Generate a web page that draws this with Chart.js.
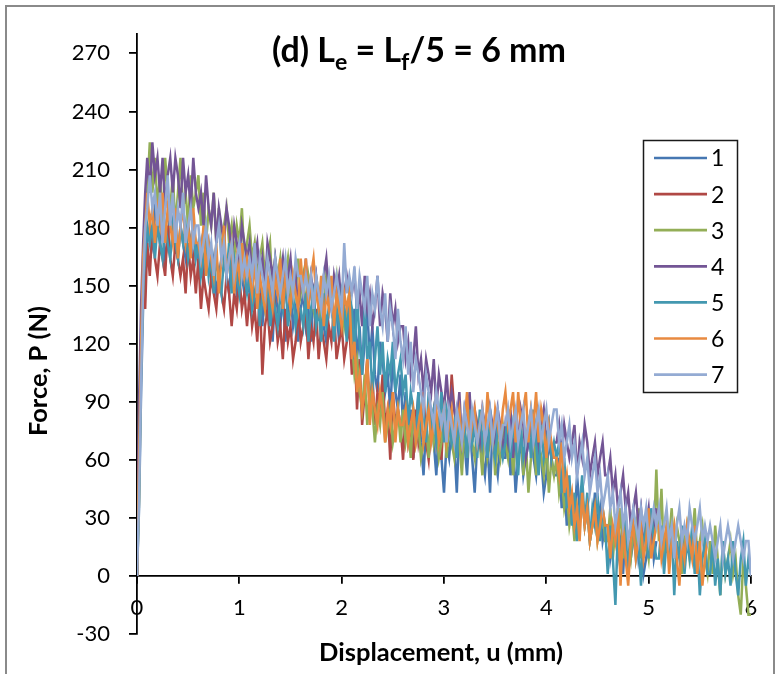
<!DOCTYPE html>
<html><head><meta charset="utf-8">
<script src="https://cdn.jsdelivr.net/npm/chart.js@4.4.1/dist/chart.umd.min.js"></script>
<style>
html,body{margin:0;padding:0;background:#fff;}
#wrap{position:relative;width:775px;height:674px;overflow:hidden;background:#fff;}
#frame{position:absolute;left:5px;top:5px;width:770px;height:720px;border:2px solid #8a8a8a;box-sizing:border-box;}
canvas{position:absolute;left:0;top:0;}
</style></head>
<body><div id="wrap"><div id="frame"></div><canvas id="c" width="775" height="674"></canvas></div>
<script>
// Displacement u (mm) sample positions
const displacement = [
  0, 0.02, 0.04, 0.06, 0.08,
  0.100, 0.125, 0.150, 0.175, 0.200, 0.225, 0.250, 0.275, 0.300, 0.325, 0.350, 0.375, 0.400, 0.425, 0.450, 0.475, 0.500, 0.525, 0.550, 0.575,
  0.600, 0.625, 0.650, 0.675, 0.700, 0.725, 0.750, 0.775, 0.800, 0.825, 0.850, 0.875, 0.900, 0.925, 0.950, 0.975, 1.000, 1.025, 1.050, 1.075,
  1.100, 1.125, 1.150, 1.175, 1.200, 1.225, 1.250, 1.275, 1.300, 1.325, 1.350, 1.375, 1.400, 1.425, 1.450, 1.475, 1.500, 1.525, 1.550, 1.575,
  1.600, 1.625, 1.650, 1.675, 1.700, 1.725, 1.750, 1.775, 1.800, 1.825, 1.850, 1.875, 1.900, 1.925, 1.950, 1.975, 2.000, 2.025, 2.050, 2.075,
  2.100, 2.125, 2.150, 2.175, 2.200, 2.225, 2.250, 2.275, 2.300, 2.325, 2.350, 2.375, 2.400, 2.425, 2.450, 2.475, 2.500, 2.525, 2.550, 2.575,
  2.600, 2.625, 2.650, 2.675, 2.700, 2.725, 2.750, 2.775, 2.800, 2.825, 2.850, 2.875, 2.900, 2.925, 2.950, 2.975, 3.000, 3.025, 3.050, 3.075,
  3.100, 3.125, 3.150, 3.175, 3.200, 3.225, 3.250, 3.275, 3.300, 3.325, 3.350, 3.375, 3.400, 3.425, 3.450, 3.475, 3.500, 3.525, 3.550, 3.575,
  3.600, 3.625, 3.650, 3.675, 3.700, 3.725, 3.750, 3.775, 3.800, 3.825, 3.850, 3.875, 3.900, 3.925, 3.950, 3.975, 4.000, 4.025, 4.050, 4.075,
  4.100, 4.125, 4.150, 4.175, 4.200, 4.225, 4.250, 4.275, 4.300, 4.325, 4.350, 4.375, 4.400, 4.425, 4.450, 4.475, 4.500, 4.525, 4.550, 4.575,
  4.600, 4.625, 4.650, 4.675, 4.700, 4.725, 4.750, 4.775, 4.800, 4.825, 4.850, 4.875, 4.900, 4.925, 4.950, 4.975, 5.000, 5.025, 5.050, 5.075,
  5.100, 5.125, 5.150, 5.175, 5.200, 5.225, 5.250, 5.275, 5.300, 5.325, 5.350, 5.375, 5.400, 5.425, 5.450, 5.475, 5.500, 5.525, 5.550, 5.575,
  5.600, 5.625, 5.650, 5.675, 5.700, 5.725, 5.750, 5.775, 5.800, 5.825, 5.850, 5.875, 5.900, 5.925, 5.950, 5.975, 6.000
];

// Force P (N) for each specimen
const force1 = [
  0, 35, 95, 140, 160,
  172,181,172,190,181,172,181,164,172,190, 181,172,164,181,172,164,181,172,164,172,
  164,172,155,164,172,155,164,146,155,164, 172,155,146,164,155,146,164,155,146,155,
  146,155,138,146,155,129,146,138,155,121, 146,138,129,146,121,138,146,129,138,121,
  138,146,129,138,121,146,129,138,146,129, 121,138,146,129,138,121,146,138,129,138,
  121,138,112,129,104,121,138,112,129,104, 95,121,112,95,104,86,112,95,86,104,
  78,95,69,86,61,78,95,69,52,78, 61,86,69,52,78,61,43,69,61,78,
  69,43,78,61,69,52,78,61,43,69, 78,61,52,69,43,78,61,52,69,61,
  61,78,52,69,43,61,69,52,61,69, 78,61,52,69,61,43,52,69,61,52,
  52,61,35,52,26,43,35,26,52,35, 43,26,35,18,26,43,26,35,18,26,
  26,9,18,26,9,18,1,26,18,9, 18,26,9,18,1,9,18,26,9,18
];
const force2 = [
  0, 69, 120, 155, 138,
  172,155,181,164,155,172,164,155,181,164, 155,172,164,155,164,146,172,155,164,146,
  164,138,155,146,138,155,146,138,155,146, 138,155,146,129,146,138,155,138,146,129,
  146,129,138,121,146,104,129,138,121,129, 138,121,129,112,138,121,129,112,121,138,
  121,129,138,112,129,121,138,112,129,121, 112,129,121,138,112,121,129,112,121,129,
  104,121,86,112,78,95,112,86,104,78, 95,86,104,78,86,60,95,78,86,78,
  60,86,69,78,60,86,69,78,95,69, 60,78,86,69,78,60,86,69,78,104,
  86, 78
];
const force3 = [
  0, 40, 110, 150, 175,
  198,224,198,216,190,207,181,216,198,190, 207,181,198,216,190,198,181,207,190,198,
  207,181,198,172,190,181,198,172,190,164, 181,190,172,181,164,181,172,190,164,172,
  181,164,172,155,164,172,155,164,172,146, 164,155,164,146,155,164,146,155,146,164,
  146,155,138,155,146,138,155,146,129,138, 155,146,138,146,155,138,146,129,138,146,
  121,104,112,95,86,104,78,95,86,69, 86,78,95,69,78,86,69,78,86,69,
  86,69,78,61,86,69,78,61,69,78, 61,86,69,78,61,69,86,61,78,69,
  61,78,69,52,78,61,86,69,61,78, 69,52,78,61,69,78,52,69,61,78,
  69,61,78,52,69,61,78,52,69,43, 61,78,52,69,61,52,69,43,61,52,
  61,43,52,35,43,26,35,18,35,26, 43,26,35,18,26,35,18,26,35,18,
  18,35,9,26,18,35,9,26,18,9, 26,18,35,9,26,18,9,26,18,55,
  18,45,9,26,18,35,9,26,18,1, 18,26,9,18,35,9,18,26,9,1,
  18,1,26,9,-10,18,1,9,18,1, 9,-10,-20,9,-5,-20,-20
];
const force4 = [
  0, 90, 140, 172, 198,
  216,198,224,207,216,198,216,190,207,216, 198,216,207,190,216,198,207,190,216,198,
  190,198,181,207,190,181,198,172,190,181, 172,190,181,164,181,172,164,181,172,164,
  172,155,164,172,155,164,146,172,164,155, 164,146,155,164,146,155,164,146,155,138,
  155,146,164,138,155,146,155,138,146,155, 164,146,138,155,146,155,138,146,155,146,
  146,155,138,146,129,155,138,146,129,138, 155,129,146,138,121,146,129,138,121,129,
  129,112,121,104,112,129,104,112,95,112, 104,95,112,86,104,95,86,104,86,95,
  86,78,95,69,86,78,95,69,86,78, 69,86,78,61,86,78,69,86,78,61,
  78,69,86,61,78,69,86,78,61,69, 86,69,78,61,78,86,69,78,61,69,
  69,78,61,78,69,61,69,78,52,69, 61,78,69,52,61,69,52,61,69,52,
  52,61,43,52,35,43,52,35,43,26, 35,43,26,35,18,26,35,18,26,35
];
const force5 = [
  0, 50, 110, 150, 165,
  181,172,181,164,181,172,164,181,172,164, 181,172,164,181,172,181,164,172,181,164,
  172,155,164,172,155,164,146,164,155,146, 164,155,172,146,164,155,146,164,155,146,
  155,138,146,155,129,146,138,155,129,146, 138,129,146,138,155,129,138,146,129,138,
  138,129,146,121,138,146,129,138,121,146, 129,138,146,121,138,129,146,138,121,146,
  138,112,146,121,104,138,112,121,95,112, 129,104,121,95,112,104,121,95,104,112,
  95,104,78,95,86,69,95,78,86,69, 95,78,86,69,78,95,69,86,78,69,
  78,61,86,69,78,61,86,69,78,61, 86,69,78,61,86,69,61,78,69,61,
  69,86,61,78,69,52,78,61,69,78, 61,86,69,52,78,61,69,78,61,69,
  61,69,43,61,35,52,26,43,18,35, 52,26,43,18,35,26,43,18,35,26,
  1,26,9,-15,26,9,18,35,1,18, 26,9,18,-5,18,26,9,35,18,9,
  9,26,1,18,9,26,-10,18,9,26, 1,18,9,26,1,18,-10,9,18,1,
  1,18,-5,9,-10,18,1,9,-5,18, 1,-10,9,18,-5,9,1
];
const force6 = [
  0, 60, 120, 165, 180,
  198,181,190,172,190,181,198,172,190,181, 172,190,164,181,190,172,181,164,190,172,
  172,164,181,155,172,164,155,172,146,164, 181,155,164,172,146,164,155,172,155,164,
  155,146,164,138,155,146,138,155,146,138, 155,146,164,138,155,146,138,155,146,138,
  164,146,164,138,155,164,146,138,155,129, 146,138,155,129,146,138,129,146,138,146,
  112,121,95,104,86,95,112,78,95,86, 78,95,86,69,86,78,95,69,86,78,
  78,86,69,78,86,69,78,86,69,78, 86,69,78,86,69,78,86,69,78,86,
  69,78,86,69,78,95,69,78,86,69, 78,86,69,95,78,69,86,78,69,86,
  95,78,86,95,69,95,78,86,95,69, 86,78,95,69,86,78,61,78,69,61,
  61,52,69,43,52,35,43,26,35,18, 43,26,35,18,26,35,18,26,35,26,
  26,9,26,18,35,-5,26,9,-5,18, 26,9,18,26,9,18,35,9,18,26,
  26,9,18,26,1,18,26,9,-5,18, 9,26,18,9,26,1,18,-5,9,18
];
const force7 = [
  0, 40, 100, 150, 180,
  190,207,190,198,181,198,172,190,207,181, 198,172,190,181,198,172,181,190,172,181,
  181,164,172,181,164,172,155,172,181,164, 172,155,164,172,155,164,172,155,164,155,
  164,155,172,146,164,155,146,164,155,146, 164,155,146,155,164,146,155,146,164,155,
  155,146,155,146,155,138,155,146,138,155, 146,155,138,146,155,146,138,172,146,155,
  146,160,138,155,146,138,155,129,146,138, 155,138,129,146,121,138,129,112,138,121,
  112,129,104,121,95,112,104,95,86,104, 95,86,78,95,86,78,86,69,86,78,
  69,86,78,69,86,78,69,86,78,69, 78,86,69,78,86,69,78,86,69,78,
  78,86,69,78,86,69,78,86,69,78, 86,69,78,86,69,78,86,69,78,86,
  86,69,78,61,69,78,61,69,52,61, 69,52,61,43,52,61,43,52,35,43,
  52,35,43,26,35,43,26,35,18,26, 35,26,18,35,26,35,18,26,35,26,
  35,18,26,35,18,26,9,26,35,18, 26,18,35,26,18,26,35,18,26,18,
  26,18,9,18,26,9,18,26,18,9, 18,26,18,9,18,18,0
];

const seriesNames = ['1', '2', '3', '4', '5', '6', '7'];
const seriesForces = [force1, force2, force3, force4, force5, force6, force7];
const seriesColors = ['#4677B2', '#B04845', '#93AE57', '#735595', '#4398B0', '#E88A40', '#94ABD3'];
const yTicks = [-30, 0, 30, 60, 90, 120, 150, 180, 210, 240, 270];
const xTicks = [0, 1, 2, 3, 4, 5, 6];

const FONT = 'Lato, "Liberation Sans", sans-serif';

const datasets = seriesForces.map((ys, i) => ({
  label: seriesNames[i],
  data: ys.map((y, k) => ({ x: displacement[k], y: y })),
  borderColor: seriesColors[i],
  backgroundColor: seriesColors[i],
  borderWidth: 2.5,
  pointRadius: 0,
  tension: 0,
  fill: false,
  order: seriesNames.length - 1 - i
}));

function fitFont(ctx, text, weight, target) {
  ctx.font = weight + ' 100px ' + FONT;
  const w = ctx.measureText(text).width;
  return 100 * target / w;
}

const overlay = {
  id: 'overlay',
  afterDraw(chart) {
    const ctx = chart.ctx;
    ctx.save();
    ctx.fillStyle = '#000';
    ctx.textAlign = 'left';
    ctx.textBaseline = 'alphabetic';
    // Title with subscripts
    const parts = [['(d) L', 1, 0], ['e', 0.68, 0.25], [' = L', 1, 0], ['f', 0.68, 0.25], ['/5 = 6 mm', 1, 0]];
    let base = 28;
    let total = 0;
    parts.forEach(p => { ctx.font = 'bold ' + (base * p[1]) + 'px ' + FONT; total += ctx.measureText(p[0]).width; });
    base = base * 294 / total;
    total = 0;
    parts.forEach(p => { ctx.font = 'bold ' + (base * p[1]) + 'px ' + FONT; total += ctx.measureText(p[0]).width; });
    let x = 419 - total / 2;
    parts.forEach(p => {
      ctx.font = 'bold ' + (base * p[1]) + 'px ' + FONT;
      ctx.fillText(p[0], x, 62 + base * p[2]);
      x += ctx.measureText(p[0]).width;
    });
    // X axis title
    ctx.textAlign = 'center';
    ctx.textBaseline = 'middle';
    let s = fitFont(ctx, 'Displacement, u (mm)', 'bold', 244);
    ctx.font = 'bold ' + s + 'px ' + FONT;
    ctx.fillText('Displacement, u (mm)', 441, 653);
    // Y axis title
    s = fitFont(ctx, 'Force, P (N)', 'bold', 130);
    ctx.font = 'bold ' + s + 'px ' + FONT;
    ctx.translate(39, 371);
    ctx.rotate(-Math.PI / 2);
    ctx.fillText('Force, P (N)', 0, 0);
    ctx.restore();

    // Legend
    ctx.save();
    ctx.fillStyle = '#fff';
    ctx.fillRect(643.5, 140.5, 94, 252);
    ctx.strokeStyle = '#1a1a1a';
    ctx.lineWidth = 1.5;
    ctx.strokeRect(643.5, 140.5, 94, 252);
    ctx.font = '23px ' + FONT;
    ctx.textAlign = 'left';
    ctx.textBaseline = 'middle';
    chart.data.datasets.forEach((ds, i) => {
      const y = 158 + i * 36.1;
      ctx.strokeStyle = ds.borderColor;
      ctx.lineWidth = 2.7;
      ctx.beginPath();
      ctx.moveTo(654, y);
      ctx.lineTo(707, y);
      ctx.stroke();
      ctx.fillStyle = '#000';
      ctx.fillText(ds.label, 711, y + 1);
    });
    ctx.restore();
  }
};

new Chart(document.getElementById('c'), {
  type: 'line',
  data: { datasets: datasets },
  plugins: [overlay],
  options: {
    responsive: false,
    animation: false,
    devicePixelRatio: 1,
    layout: { padding: { left: 0, top: 34, right: 24, bottom: 40 } },
    plugins: { legend: { display: false }, tooltip: { enabled: false }, title: { display: false } },
    scales: {
      x: {
        type: 'linear',
        min: 0, max: 6,
        position: { y: 0 },
        afterBuildTicks: (sc) => { sc.ticks = xTicks.map(v => ({ value: v })); },
        ticks: { font: { family: FONT, size: 22 }, color: '#000', padding: 12, maxRotation: 0 },
        grid: { display: true, drawOnChartArea: false, drawTicks: true, tickLength: 7, color: '#000', lineWidth: 1.8 },
        border: { display: true, color: '#000', width: 1.8 }
      },
      y: {
        type: 'linear',
        min: -30, max: 280,
        afterBuildTicks: (sc) => { sc.ticks = yTicks.map(v => ({ value: v })); },
        afterFit: (sc) => { sc.width = 137; },
        ticks: { font: { family: FONT, size: 22 }, color: '#000', padding: 19 },
        grid: { display: true, drawOnChartArea: false, drawTicks: true, tickLength: 8, color: '#000', lineWidth: 1.8 },
        border: { display: true, color: '#000', width: 1.8 }
      }
    }
  }
});
</script></body></html>
